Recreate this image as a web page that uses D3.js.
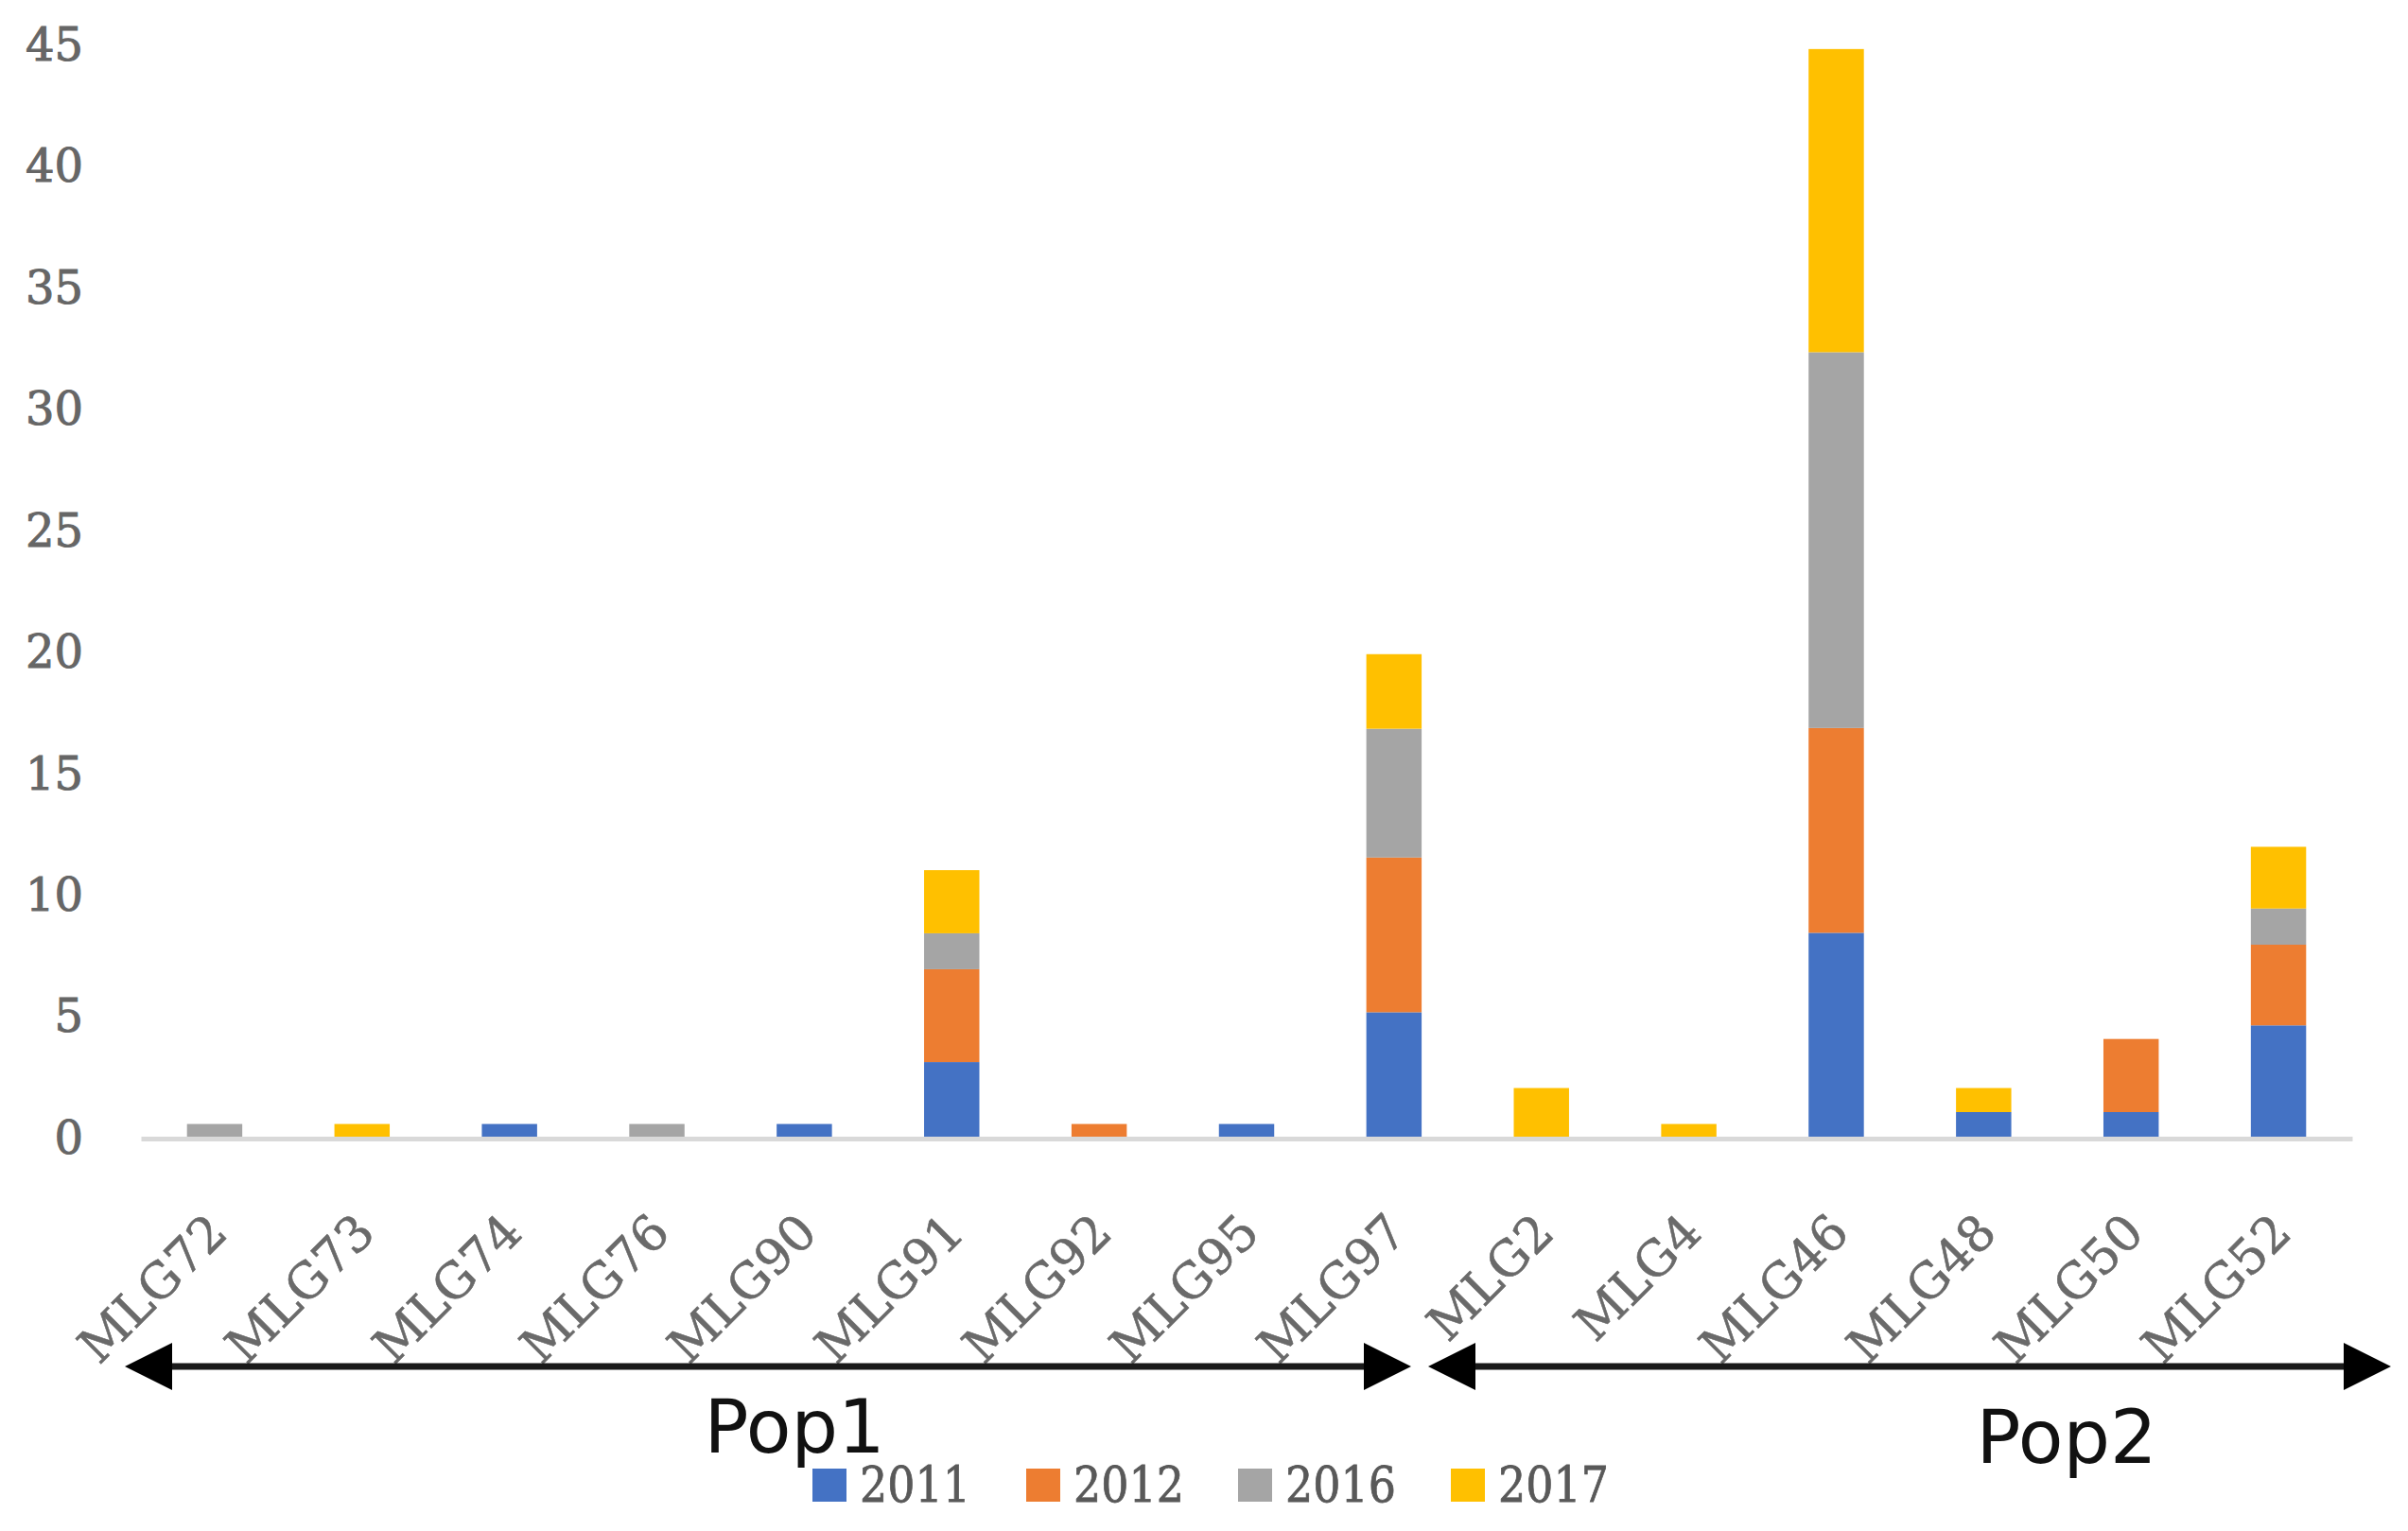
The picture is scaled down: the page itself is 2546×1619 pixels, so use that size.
<!DOCTYPE html>
<html>
<head>
<meta charset="utf-8">
<script src="https://cdn.jsdelivr.net/npm/d3@7/dist/d3.min.js"></script>
<style>
  html, body { margin: 0; padding: 0; background: #ffffff; }
  svg { display: block; }
</style>
</head>
<body>
<svg id="chart" width="2546" height="1619"></svg>
<script>
// ---- data ----
const categories = ["MLG72","MLG73","MLG74","MLG76","MLG90","MLG91","MLG92","MLG95","MLG97","MLG2","MLG4","MLG46","MLG48","MLG50","MLG52"];
const seriesNames = ["2011","2012","2016","2017"];
const values2011 = [0,   0,   0.6, 0,   0.6, 3.15, 0,   0.6, 5.2,  0,    0,   8.47,  1.09, 1.09, 4.66];
const values2012 = [0,   0,   0,   0,   0,   3.82, 0.6, 0,   6.37, 0,    0,   8.43,  0,    3.01, 3.32];
const values2016 = [0.6, 0,   0,   0.6, 0,   1.48, 0,   0,   5.3,  0,    0,   15.47, 0,    0,    1.49];
const values2017 = [0,   0.6, 0,   0,   0,   2.6,  0,   0,   3.07, 2.08, 0.6, 12.48, 0.99, 0,    2.54];
const yTicks = [0,5,10,15,20,25,30,35,40,45];
const groups = [
  {label: "Pop1", from: "MLG72", to: "MLG97"},
  {label: "Pop2", from: "MLG2",  to: "MLG52"}
];
const colors = ["#4472C4", "#ED7D31", "#A5A5A5", "#FFC000"];

// ---- build table ----
const seriesValues = [values2011, values2012, values2016, values2017];
const table = categories.map((c, i) => {
  const row = {cat: c};
  seriesNames.forEach((s, k) => row[s] = seriesValues[k][i]);
  return row;
});

const svg = d3.select("#chart");
const plotLeft = 149, plotRight = 2487, plotTop = 48, plotBottom = 1204;

const x = d3.scaleBand().domain(categories).range([plotLeft, plotRight]).paddingInner(0.625).paddingOuter(0.3125);
const y = d3.scaleLinear().domain([0, 45]).range([plotBottom, plotTop]);
const color = d3.scaleOrdinal().domain(seriesNames).range(colors);

const stacked = d3.stack().keys(seriesNames)(table);

// bars
svg.append("g").selectAll("g")
  .data(stacked)
  .join("g")
  .attr("fill", d => color(d.key))
  .selectAll("rect")
  .data(d => d.filter(p => p[1] - p[0] > 0))
  .join("rect")
  .attr("x", d => x(d.data.cat))
  .attr("width", x.bandwidth())
  .attr("y", d => y(d[1]))
  .attr("height", d => y(d[0]) - y(d[1]));

// x axis
const xAxis = svg.append("g")
  .attr("transform", `translate(0,${plotBottom})`)
  .call(d3.axisBottom(x).tickSizeInner(0).tickSizeOuter(0).tickPadding(0));
xAxis.select(".domain").attr("stroke", "#d9d9d9").attr("stroke-width", 5);
xAxis.selectAll(".tick text")
  .attr("x", 0).attr("y", 0).attr("dy", 0)
  .attr("text-anchor", "end")
  .attr("transform", "translate(16,102) rotate(-45)")
  .attr("font-family", "'DejaVu Serif', serif")
  .attr("font-size", 52)
  .attr("fill", "#6a6a6a")
  .attr("stroke", "#6a6a6a")
  .attr("stroke-width", 0.6);

// y axis
const yAxis = svg.append("g")
  .attr("transform", `translate(${plotLeft},0)`)
  .call(d3.axisLeft(y).tickValues(yTicks).tickSize(0).tickPadding(61));
yAxis.select(".domain").remove();
yAxis.selectAll(".tick text")
  .attr("font-family", "'DejaVu Serif', serif")
  .attr("font-size", 48)
  .attr("fill", "#666")
  .attr("stroke", "#666")
  .attr("stroke-width", 1);

// population arrows
const arrowY = 1445;
const head = 50;
const arrowG = svg.append("g");
const groupPos = [
  {x1: 132, x2: 1492, tx: 840, ty: 1536},
  {x1: 1510, x2: 2528, tx: 2185, ty: 1547}
];
groups.forEach((g, i) => {
  const p = groupPos[i];
  arrowG.append("line")
    .attr("x1", p.x1 + head - 4).attr("x2", p.x2 - head + 4)
    .attr("y1", arrowY).attr("y2", arrowY)
    .attr("stroke", "#1a1a1a").attr("stroke-width", 7);
  arrowG.append("path")
    .attr("d", `M${p.x1},${arrowY} L${p.x1 + head},${arrowY - 25} L${p.x1 + head},${arrowY + 25} Z`)
    .attr("fill", "#000");
  arrowG.append("path")
    .attr("d", `M${p.x2},${arrowY} L${p.x2 - head},${arrowY - 25} L${p.x2 - head},${arrowY + 25} Z`)
    .attr("fill", "#000");
  arrowG.append("text")
    .attr("x", p.tx).attr("y", p.ty)
    .attr("text-anchor", "middle")
    .attr("font-family", "'DejaVu Sans', sans-serif")
    .attr("font-size", 78)
    .attr("fill", "#111")
    .text(g.label);
});

// legend
const legendX = [859, 1085, 1309, 1534];
const legend = svg.append("g");
seriesNames.forEach((s, i) => {
  legend.append("rect")
    .attr("x", legendX[i]).attr("y", 1553)
    .attr("width", 36).attr("height", 35)
    .attr("fill", color(s));
  legend.append("text")
    .attr("x", legendX[i] + 50).attr("y", 1588)
    .attr("font-family", "'DejaVu Serif', serif")
    .attr("font-size", 52)
    .attr("textLength", 117)
    .attr("lengthAdjust", "spacingAndGlyphs")
    .attr("fill", "#595959")
    .attr("stroke", "#595959")
    .attr("stroke-width", 0.8)
    .text(s);
});
</script>
</body>
</html>
